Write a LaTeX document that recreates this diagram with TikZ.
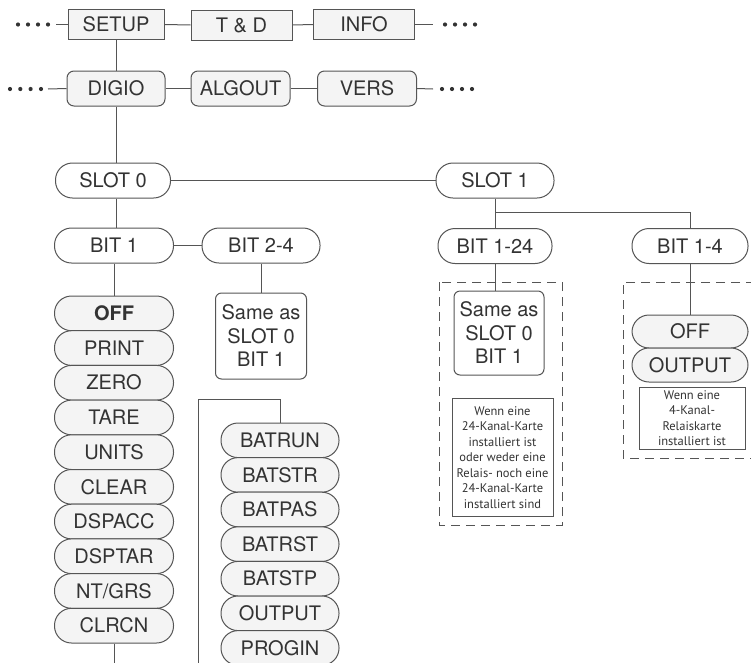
\documentclass[tikz,border=0pt]{standalone}
\usepackage{fontspec}
\setmainfont{TeX Gyre Heros}
\newfontfamily\notefont{PT Sans}
\definecolor{ln}{HTML}{555555}
\definecolor{tx}{HTML}{333333}
\definecolor{fl}{HTML}{F4F4F4}
\begin{document}
\begin{tikzpicture}[x=1pt,y=-1pt,
  every node/.style={inner sep=0pt, text=tx, font=\fontsize{20}{23.5}\selectfont},
  conn/.style={draw=ln, line width=1pt},
  capt/.style={text height=14.3pt, text depth=0pt},
  sqbox/.style={draw=ln, line width=1pt, fill=fl, minimum height=30pt, capt},
  rbox/.style={draw=ln, line width=1pt, fill=fl, rounded corners=7pt, minimum width=98pt, minimum height=35pt, capt},
  pill/.style={draw=ln, line width=1pt, rounded corners=17pt, minimum height=35pt, fill=white, capt},
  opt/.style={pill, fill=fl, minimum width=119pt, minimum height=34.7pt},
  bopt/.style={opt, minimum width=118pt, minimum height=34.6pt},
  samebox/.style={draw=ln, line width=1pt, rounded corners=6pt, align=center, fill=white},
  notebox/.style={draw=ln, line width=1pt, align=center, font=\notefont\fontsize{12.5}{15.5}\selectfont, fill=white},
  dashbox/.style={draw=ln, line width=1pt, dash pattern=on 9pt off 6pt},
]
\clip (0,0) rectangle (751,662);
\fill[white] (0,0) rectangle (751,662);

% dashed groups
\draw[dashbox] (439,282) rectangle (562,525);
\draw[dashbox] (770,282) -- (623,282) -- (623,458) -- (770,458);

% row 1
\node[sqbox, minimum width=96pt] (setup) at (116,24.5) {SETUP};
\node[sqbox, minimum width=101pt] (td) at (241.5,25) {T \& D};
\node[sqbox, minimum width=101pt] (info) at (364,24.5) {INFO};
\coordinate (dl1) at (56,24.5);
\coordinate (dr1) at (433,24.5);
\foreach \x in {18,28,38,48} \fill[tx] (\x,24.5) circle (2.1pt);
\foreach \x in {445,455,465,475} \fill[tx] (\x,24.5) circle (2.1pt);

% row 2
\node[rbox] (digio) at (116,88.5) {DIGIO};
\node[rbox, minimum width=99pt] (algout) at (240.5,88.5) {ALGOUT};
\node[rbox, minimum width=99pt] (vers) at (367,88.5) {VERS};
\coordinate (dl2) at (48,89);
\coordinate (dr2) at (433,89);
\foreach \x in {10,20.3,30.6,41} \fill[tx] (\x,89) circle (2.1pt);
\foreach \x in {442,452,462,472} \fill[tx] (\x,89) circle (2.1pt);

% slots
\node[pill, minimum width=115pt] (slot0) at (113,180.5) {SLOT 0};
\node[pill, minimum width=118pt] (slot1) at (495,180.5) {SLOT 1};

% bits
\node[pill, minimum width=119pt] (bit1) at (114,245.5) {BIT 1};
\node[pill, minimum width=118pt] (bit24) at (261,245.5) {BIT 2-4};
\node[pill, minimum width=114pt] (bit124) at (495,246) {BIT 1-24};
\node[pill, minimum width=116pt] (bit14) at (690,246) {BIT 1-4};

% same-as boxes
\node[samebox, minimum width=91pt, minimum height=86pt] (same1) at (261,336) {Same as\\SLOT 0\\BIT 1};
\node[samebox, minimum width=90pt, minimum height=84pt] (same2) at (499,333) {Same as\\SLOT 0\\BIT 1};

% notes
\node[notebox, minimum width=101pt, minimum height=118pt] (note1) at (502.5,457.5)
  {Wenn eine\\24-Kanal-Karte\\installiert ist\\oder weder eine\\Relais- noch eine\\24-Kanal-Karte\\installiert sind};
\node[notebox, minimum width=106pt, minimum height=62pt] (note2) at (692,418)
  {Wenn eine\\4-Kanal-\\Relaiskarte\\installiert ist};

% left option stack
\node[opt] (loff)   at (114,313.35) {\textbf{OFF}};
\node[opt] (print)  at (114,348.05) {PRINT};
\node[opt] (zero)   at (114,382.75) {ZERO};
\node[opt] (tare)   at (114,417.45) {TARE};
\node[opt] (units)  at (114,452.15) {UNITS};
\node[opt] (clear)  at (114,486.85) {CLEAR};
\node[opt] (dspacc) at (114,521.55) {DSPACC};
\node[opt] (dsptar) at (114,556.25) {DSPTAR};
\node[opt] (ntgrs)  at (114,590.95) {NT/GRS};
\node[opt] (clrcn)  at (114,625.65) {CLRCN};

% batch stack
\node[bopt] (batrun) at (280,440.3) {BATRUN};
\node[bopt] (batstr) at (280,474.9) {BATSTR};
\node[bopt] (batpas) at (280,509.5) {BATPAS};
\node[bopt] (batrst) at (280,544.1) {BATRST};
\node[bopt] (batstp) at (280,578.7) {BATSTP};
\node[bopt] (bout)   at (280,613.3) {OUTPUT};
\node[bopt] (progin) at (280,647.9) {PROGIN};

% right option stack
\node[opt, minimum width=116pt, minimum height=33pt] (roff) at (690,331.5) {OFF};
\node[opt, minimum width=116pt, minimum height=34pt] (rout) at (690,365) {OUTPUT};

% connectors
\draw[conn] (dl1) -- (setup.west);
\draw[conn] (setup.east) -- (td.west);
\draw[conn] (td.east) -- (info.west);
\draw[conn] (info.east) -- (dr1);
\draw[conn] (setup.south) -- (digio.north);
\draw[conn] (dl2) -- (digio.west);
\draw[conn] (digio.east) -- (algout.west);
\draw[conn] (algout.east) -- (vers.west);
\draw[conn] (vers.east) -- (dr2);
\draw[conn] (digio.south) -- (digio.south |- slot0.north);
\draw[conn] (slot0.east) -- (slot1.west);
\draw[conn] (slot0.south -| digio.south) -- (bit1.north -| digio.south);
\draw[conn] (bit1.east) -- (bit24.west);
\draw[conn] (bit1.south) -- (loff.north);
\draw[conn] (bit24.south) -- (same1.north);
\coordinate (j1) at (495,212);
\draw[conn] (slot1.south) -- (bit124.north);
\draw[conn] (j1) -| (bit14.north);
\draw[conn] (bit124.south) -- (bit124.south |- same2.north);
\draw[conn] (bit14.south) -- (roff.north);
\coordinate (bk) at (198,399);
\coordinate (bkb) at (198,670);
\draw[conn] (bkb) -- (bk) -| (batrun.north);
\coordinate (cb) at (114,670);
\draw[conn] (clrcn.south) -- (cb);
\end{tikzpicture}
\end{document}
